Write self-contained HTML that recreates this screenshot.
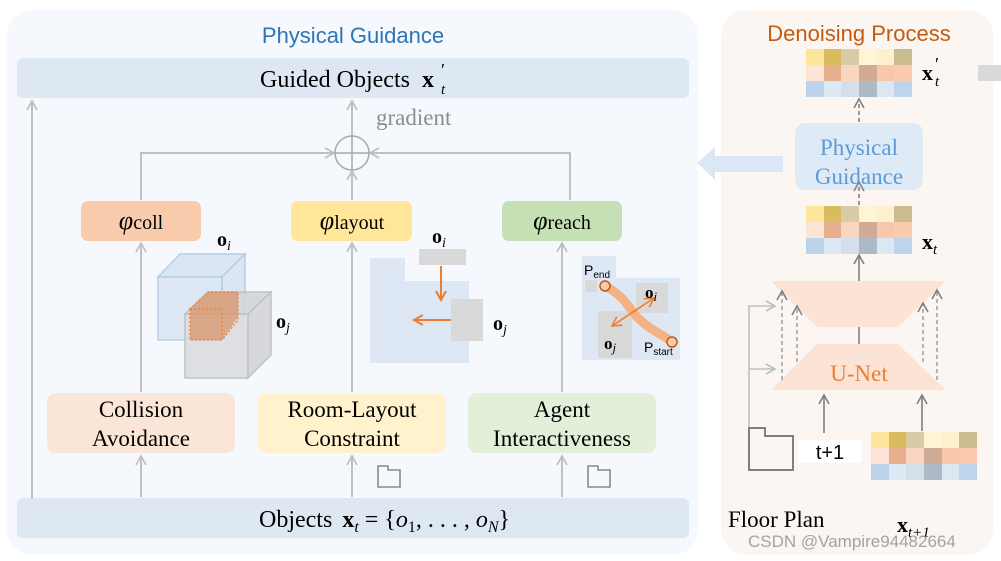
<!DOCTYPE html>
<html><head><meta charset="utf-8"><style>
body{margin:0;background:#fff;}
svg{display:block;}
.s{font-family:"Liberation Serif",serif;}
.a{font-family:"Liberation Sans","DejaVu Sans",sans-serif;}
</style></head><body>
<svg width="1001" height="561" viewBox="0 0 1001 561" xmlns="http://www.w3.org/2000/svg">
<defs>
<marker id="ag" markerWidth="12" markerHeight="12" refX="10" refY="6" orient="auto" markerUnits="userSpaceOnUse"><path d="M1,1 L10,6 L1,11" fill="none" stroke="#bdbdbd" stroke-width="1.6"/></marker>
<marker id="ad" markerWidth="12" markerHeight="12" refX="10" refY="6" orient="auto" markerUnits="userSpaceOnUse"><path d="M1,1 L10,6 L1,11" fill="none" stroke="#808080" stroke-width="1.6"/></marker>
<marker id="ao" markerWidth="12" markerHeight="12" refX="10" refY="6" orient="auto" markerUnits="userSpaceOnUse"><path d="M1,1 L10,6 L1,11" fill="none" stroke="#ed7d31" stroke-width="2"/></marker>
<marker id="ao2" markerWidth="12" markerHeight="12" refX="10" refY="6" orient="auto-start-reverse" markerUnits="userSpaceOnUse"><path d="M1,1 L10,6 L1,11" fill="none" stroke="#ed7d31" stroke-width="1.6"/></marker>
</defs>
<!-- left panel -->
<rect x="7" y="10" width="691" height="545" rx="26" fill="#f5f8fc"/>
<text x="353" y="43" text-anchor="middle" class="a" font-size="22" fill="#2e75b6">Physical Guidance</text>
<rect x="17" y="58" width="672" height="40" rx="6" fill="#dee8f3"/>
<text x="260" y="87" class="s" font-size="24" fill="#000">Guided Objects <tspan font-weight="bold" dx="6">x</tspan></text>
<text x="441" y="76" class="s" font-size="18">′</text>
<text x="441" y="94" class="s" font-size="15" font-style="italic">t</text>
<rect x="17" y="498" width="672" height="40" rx="6" fill="#dee8f3"/>
<text x="259" y="527" class="s" font-size="24" fill="#000">Objects <tspan font-weight="bold" dx="4">x</tspan><tspan font-style="italic" font-size="16" dy="5">t</tspan><tspan dy="-5"> = {</tspan><tspan font-style="italic">o</tspan><tspan font-size="16" dy="5">1</tspan><tspan dy="-5">, . . . , </tspan><tspan font-style="italic">o</tspan><tspan font-style="italic" font-size="16" dy="5">N</tspan><tspan dy="-5">}</tspan></text>
<!-- connectors -->
<g stroke="#c0c0c0" stroke-width="2" fill="none">
<line x1="32" y1="498" x2="32" y2="101" marker-end="url(#ag)"/>
<line x1="352" y1="136" x2="352" y2="101" marker-end="url(#ag)"/>
<line x1="352" y1="200" x2="352" y2="171" marker-end="url(#ag)"/>
<polyline points="141,200 141,153 334,153" marker-end="url(#ag)"/>
<polyline points="570,200 570,153 370,153" marker-end="url(#ag)"/>
<line x1="141" y1="392" x2="141" y2="243" marker-end="url(#ag)"/>
<line x1="352" y1="392" x2="352" y2="243" marker-end="url(#ag)"/>
<line x1="562" y1="392" x2="562" y2="243" marker-end="url(#ag)"/>
<line x1="141" y1="497" x2="141" y2="456" marker-end="url(#ag)"/>
<line x1="352" y1="497" x2="352" y2="456" marker-end="url(#ag)"/>
<line x1="562" y1="497" x2="562" y2="456" marker-end="url(#ag)"/>
</g>
<circle cx="352" cy="153" r="17" fill="none" stroke="#a8a8a8" stroke-width="1.5"/>
<line x1="335" y1="153" x2="369" y2="153" stroke="#a8a8a8" stroke-width="1.5"/>
<line x1="352" y1="136" x2="352" y2="170" stroke="#a8a8a8" stroke-width="1.5"/>
<text x="376" y="125" class="s" font-size="23" fill="#8c8c8c">gradient</text>
<!-- phi boxes -->
<rect x="81" y="201" width="120" height="40" rx="7" fill="#f8cbad"/>
<text x="141" y="229" text-anchor="middle" class="s" font-size="21"><tspan font-style="italic" font-size="26">φ</tspan><tspan font-size="20">coll</tspan></text>
<rect x="291" y="201" width="121" height="40" rx="7" fill="#ffe699"/>
<text x="352" y="229" text-anchor="middle" class="s" font-size="21"><tspan font-style="italic" font-size="26">φ</tspan><tspan font-size="20">layout</tspan></text>
<rect x="502" y="201" width="120" height="40" rx="7" fill="#c5e0b4"/>
<text x="562" y="229" text-anchor="middle" class="s" font-size="21"><tspan font-style="italic" font-size="26">φ</tspan><tspan font-size="20">reach</tspan></text>
<!-- bottom boxes -->
<rect x="47" y="393" width="188" height="60" rx="9" fill="#fbe5d6"/>
<text x="141" y="417" text-anchor="middle" class="s" font-size="23">Collision</text>
<text x="141" y="446" text-anchor="middle" class="s" font-size="23">Avoidance</text>
<rect x="257" y="393" width="189" height="60" rx="9" fill="#fff2cc"/>
<text x="352" y="417" text-anchor="middle" class="s" font-size="23">Room-Layout</text>
<text x="352" y="446" text-anchor="middle" class="s" font-size="23">Constraint</text>
<rect x="468" y="393" width="188" height="60" rx="9" fill="#e2f0d9"/>
<text x="562" y="417" text-anchor="middle" class="s" font-size="23">Agent</text>
<text x="562" y="446" text-anchor="middle" class="s" font-size="23">Interactiveness</text>
<!-- floor icons small -->
<path d="M378,487 L378,466 L388,466 L388,470 L400,470 L400,487 Z" fill="none" stroke="#8a8a8a" stroke-width="1.6"/>
<path d="M588,487 L588,466 L598,466 L598,470 L610,470 L610,487 Z" fill="none" stroke="#8a8a8a" stroke-width="1.6"/>
<!-- cubes -->
<g stroke="#b4cde8" stroke-width="1.5" fill="#dbe6f3">
<polygon points="158,277 180,254 245,254 222,277"/>
<polygon points="222,277 245,254 245,317 222,340"/>
<rect x="158" y="277" width="64" height="63" fill="#dce7f4" opacity="0.9"/>
</g>
<g stroke="#bdbdbd" stroke-width="1.5" fill="#d4d6d9" opacity="0.92">
<polygon points="185,314 208,292 271,292 248,314"/>
<polygon points="248,314 271,292 271,355 248,378"/>
<rect x="185" y="314" width="63" height="64" fill="#dcdde0"/>
</g>
<polygon points="190,309 208,292 238,292 238,317 222,340 190,340" fill="#d9966a" opacity="0.75"/>
<rect x="190" y="309" width="32" height="31" fill="none" stroke="#ed7d31" stroke-dasharray="2,2" stroke-width="1.2"/>
<polyline points="190,309 208,292 238,292 238,320 222,340" fill="none" stroke="#ed7d31" stroke-dasharray="2,2" stroke-width="1.2"/>
<text x="217" y="246" class="s" font-size="20" font-weight="bold">o<tspan font-style="italic" font-weight="normal" font-size="14" dy="4">i</tspan></text>
<text x="276" y="328" class="s" font-size="20" font-weight="bold">o<tspan font-style="italic" font-weight="normal" font-size="14" dy="4">j</tspan></text>
<!-- layout illustration -->
<polygon points="370,258 405,258 405,281 469,281 469,363 370,363" fill="#dde8f4"/>
<rect x="419" y="249" width="47" height="16" fill="#d9d9d9"/>
<rect x="451" y="299" width="32" height="42" fill="#d9d9d9"/>
<line x1="441" y1="266" x2="441" y2="300" stroke="#ed7d31" stroke-width="2" marker-end="url(#ao)"/>
<line x1="451" y1="320" x2="414" y2="320" stroke="#ed7d31" stroke-width="2" marker-end="url(#ao)"/>
<text x="432" y="243" class="s" font-size="20" font-weight="bold">o<tspan font-style="italic" font-weight="normal" font-size="14" dy="4">i</tspan></text>
<text x="493" y="330" class="s" font-size="20" font-weight="bold">o<tspan font-style="italic" font-weight="normal" font-size="14" dy="4">j</tspan></text>
<!-- reach illustration -->
<polygon points="582,256 616,256 616,278 680,278 680,360 582,360" fill="#dde8f4"/>
<rect x="585" y="280" width="12" height="12" fill="#d9d9d9"/>
<rect x="636" y="283" width="32" height="30" fill="#d9d9d9"/>
<rect x="598" y="311" width="34" height="47" fill="#d9d9d9"/>
<path d="M605,286 C625,296 630,310 638,318 C650,330 662,334 672,342" fill="none" stroke="#f4b183" stroke-width="9" stroke-linecap="round"/>
<line x1="612" y1="326" x2="654" y2="298" stroke="#ed7d31" stroke-width="1.6" marker-start="url(#ao2)" marker-end="url(#ao2)"/>
<circle cx="605" cy="286" r="5" fill="#f8cbad" stroke="#c55a11" stroke-width="1.5"/>
<circle cx="672" cy="342" r="5" fill="#f8cbad" stroke="#c55a11" stroke-width="1.5"/>
<text x="584" y="275" class="a" font-size="14">P<tspan font-size="10" dy="3">end</tspan></text>
<text x="645" y="298" class="s" font-size="17" font-weight="bold">o<tspan font-style="italic" font-weight="normal" font-size="13" dy="3">i</tspan></text>
<text x="604" y="349" class="s" font-size="17" font-weight="bold">o<tspan font-style="italic" font-weight="normal" font-size="13" dy="3">j</tspan></text>
<text x="644" y="352" class="a" font-size="14">P<tspan font-size="10" dy="3">start</tspan></text>
<!-- right panel -->
<rect x="721" y="10" width="272" height="545" rx="26" fill="#fcf6f2"/>
<text x="859" y="41" text-anchor="middle" class="a" font-size="22" fill="#c55a11">Denoising Process</text>
<rect x="978" y="65" width="23" height="16" fill="#d9d9d9"/>
<polygon points="697,163 715,147 715,156 783,156 783,172 715,172 715,180" fill="#dae7f4"/>
<g id="grid">
<rect x="806" y="49" width="18" height="16" fill="#fde59a"/><rect x="824" y="49" width="17" height="16" fill="#dbbb60"/><rect x="841" y="49" width="18" height="16" fill="#d8cba8"/><rect x="859" y="49" width="18" height="16" fill="#fff5d5"/><rect x="877" y="49" width="17" height="16" fill="#feefcd"/><rect x="894" y="49" width="18" height="16" fill="#cabc90"/>
<rect x="806" y="65" width="18" height="16" fill="#fce4d6"/><rect x="824" y="65" width="17" height="16" fill="#e6b08e"/><rect x="841" y="65" width="18" height="16" fill="#fad5c0"/><rect x="859" y="65" width="18" height="16" fill="#cfab98"/><rect x="877" y="65" width="17" height="16" fill="#f9c8aa"/><rect x="894" y="65" width="18" height="16" fill="#fbcbaf"/>
<rect x="806" y="81" width="18" height="16" fill="#bdd3ea"/><rect x="824" y="81" width="17" height="16" fill="#dde9f4"/><rect x="841" y="81" width="18" height="16" fill="#d5dfea"/><rect x="859" y="81" width="18" height="16" fill="#adb9c7"/><rect x="877" y="81" width="17" height="16" fill="#dde7f2"/><rect x="894" y="81" width="18" height="16" fill="#bed4ea"/>
</g>
<use href="#grid" x="0" y="157"/>
<use href="#grid" x="65" y="383"/>
<text x="922" y="80" class="s" font-size="22" font-weight="bold">x</text>
<text x="935" y="70" class="s" font-size="18">′</text>
<text x="935" y="86" class="s" font-size="15" font-style="italic">t</text>
<text x="922" y="249" class="s" font-size="22" font-weight="bold">x<tspan font-style="italic" font-weight="normal" font-size="15" dy="5">t</tspan></text>
<text x="897" y="532" class="s" font-size="22" font-weight="bold">x<tspan font-style="italic" font-weight="normal" font-size="15" dy="5">t+1</tspan></text>
<rect x="795" y="123" width="128" height="67" rx="10" fill="#deebf7"/>
<text x="859" y="155" text-anchor="middle" class="s" font-size="23" fill="#5b9bd5">Physical</text>
<text x="859" y="184" text-anchor="middle" class="s" font-size="23" fill="#5b9bd5">Guidance</text>
<g stroke="#808080" stroke-width="1.6" fill="none">
<line x1="859" y1="122" x2="859" y2="99" stroke-dasharray="4,3" marker-end="url(#ad)"/>
<line x1="859" y1="205" x2="859" y2="182" stroke-dasharray="4,3" marker-end="url(#ad)"/>
<line x1="859" y1="281" x2="859" y2="255" marker-end="url(#ad)"/>
</g>
<polygon points="771,281 946,281 898,327 817,327" fill="#fbe3d6"/>
<polygon points="817,344 898,344 946,390 771,390" fill="#fbe3d6"/>
<line x1="859" y1="327" x2="859" y2="344" stroke="#808080" stroke-width="1.6"/>
<text x="859" y="381" text-anchor="middle" class="s" font-size="23" fill="#ed7d31">U-Net</text>
<g stroke="#999" stroke-width="1.4" fill="none" stroke-dasharray="4,3">
<line x1="782" y1="380" x2="782" y2="291" marker-end="url(#ad)"/>
<line x1="797" y1="362" x2="797" y2="306" marker-end="url(#ad)"/>
<line x1="923" y1="362" x2="923" y2="303" marker-end="url(#ad)"/>
<line x1="937" y1="380" x2="937" y2="290" marker-end="url(#ad)"/>
</g>
<g stroke="#c0c0c0" stroke-width="1.6" fill="none">
<polyline points="749,428 749,306 775,306" marker-end="url(#ag)"/>
<line x1="749" y1="369" x2="775" y2="369" marker-end="url(#ag)"/>
</g>
<g stroke="#808080" stroke-width="1.6" fill="none">
<line x1="824" y1="433" x2="824" y2="395" marker-end="url(#ad)"/>
<line x1="922" y1="431" x2="922" y2="395" marker-end="url(#ad)"/>
</g>
<path d="M749,470 L749,428 L765,428 L765,436 L793,436 L793,470 Z" fill="none" stroke="#808080" stroke-width="2"/>
<rect x="798" y="440" width="64" height="23" rx="3" fill="#fff"/>
<text x="830" y="459" text-anchor="middle" class="a" font-size="20">t+1</text>
<text x="728" y="527" class="s" font-size="23">Floor Plan</text>
<text x="748" y="547" class="a" font-size="17" fill="#9a9a9a" opacity="0.9">CSDN @Vampire94482664</text>
</svg>
</body></html>
